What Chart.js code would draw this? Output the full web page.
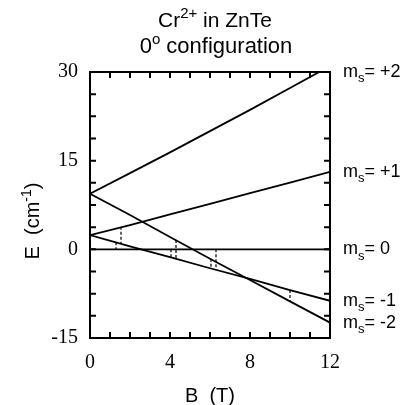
<!DOCTYPE html>
<html>
<head>
<meta charset="utf-8">
<script src="https://cdn.jsdelivr.net/npm/chart.js@4"></script>
<style>
html,body{margin:0;padding:0;background:#fff}
</style>
</head>
<body>
<canvas id="chart" width="406" height="405"></canvas>
<script>
// energy levels of Cr2+ vs field, one list per m_s
const fieldB=[0,2,4,6,8,10,12]
const levelPlus2=[9.4,12.9,16.4,20.0,23.6,27.3,31.0]
const levelPlus1=[2.4,4.1,5.9,7.7,9.5,11.3,13.1]
const levelZero=[0,0,0,0,0,0,0]
const levelMinus1=[2.4,0.5,-1.3,-3.2,-5.0,-6.9,-8.7]
const levelMinus2=[9.4,5.8,2.1,-1.6,-5.2,-8.8,-12.4]
const levelNames=["+2","+1","0","-1","-2"]

// resonance transitions (dotted): field, upper and lower energy
const transB=[1.3,1.55,4.05,4.3,6.05,6.3,10.0]
const transTop=[1.2,3.8,0,1.6,-1.6,0,-6.9]
const transBottom=[0,0.9,-1.4,-1.6,-3.2,-3.4,-8.8]

const xTicks=[0,1,2,3,4,5,6,7,8,9,10,11,12]
const xLabels=[0,4,8,12]
const yTicks=[-15,-11.25,-7.5,-3.75,0,3.75,7.5,11.25,15,18.75,22.5,26.25,30]
const yLabels=[-15,0,15,30]

const levels=[levelPlus2,levelPlus1,levelZero,levelMinus1,levelMinus2]

const SANS='"Liberation Sans", Arial, sans-serif'
const SERIF='"Liberation Serif", "Times New Roman", serif'

// draws a run of text pieces with optional super/subscripts
function richText(ctx,parts,x,y,align,size){
  let w=0
  parts.forEach(p=>{
    ctx.font=(p.sup||p.sub?Math.round(size*0.7):size)+"px "+SANS
    p.w=ctx.measureText(p.t).width
    w+=p.w
  })
  let cx=align==="center"?x-w/2:x
  parts.forEach(p=>{
    const s=p.sup||p.sub?Math.round(size*0.7):size
    ctx.font=s+"px "+SANS
    let dy=0
    if(p.sup) dy=-size*0.42
    if(p.sub) dy=size*0.3
    ctx.fillText(p.t,cx,y+dy)
    cx+=p.w
  })
}

const frame={
  id:"frame",
  afterDraw(chart){
    const {ctx,chartArea:a,scales:{x,y}}=chart
    ctx.save()
    ctx.strokeStyle="#000"
    ctx.fillStyle="#000"
    ctx.lineWidth=2
    ctx.strokeRect(a.left,a.top,a.right-a.left,a.bottom-a.top)

    // inward ticks on all four sides
    const tl=6
    ctx.beginPath()
    xTicks.forEach(v=>{
      const px=x.getPixelForValue(v)
      ctx.moveTo(px,a.bottom);ctx.lineTo(px,a.bottom-tl)
      ctx.moveTo(px,a.top);ctx.lineTo(px,a.top+tl)
    })
    yTicks.forEach(v=>{
      const py=y.getPixelForValue(v)
      ctx.moveTo(a.left,py);ctx.lineTo(a.left+tl,py)
      ctx.moveTo(a.right,py);ctx.lineTo(a.right-tl,py)
    })
    ctx.stroke()

    ctx.font="20px "+SERIF
    ctx.textBaseline="middle"
    ctx.textAlign="right"
    yLabels.forEach(v=>ctx.fillText(String(v),a.left-12,y.getPixelForValue(v)))
    ctx.textAlign="center"
    ctx.textBaseline="alphabetic"
    xLabels.forEach(v=>ctx.fillText(String(v),x.getPixelForValue(v),a.bottom+30))

    ctx.textAlign="left"
    ctx.textBaseline="alphabetic"
    richText(ctx,[{t:"Cr"},{t:"2+",sup:true},{t:" in ZnTe"}],215,27,"center",21)
    richText(ctx,[{t:"0"},{t:"o",sup:true},{t:" configuration"}],216,53,"center",22)
    richText(ctx,[{t:"B  (T)"}],210,402,"center",20)

    ctx.save()
    ctx.translate(39,221)
    ctx.rotate(-Math.PI/2)
    richText(ctx,[{t:"E  (cm"},{t:"-1",sup:true},{t:")"}],0,0,"center",20)
    ctx.restore()

    // m_s labels at the right end of each level
    levels.forEach((lv,i)=>{
      const e=Math.min(lv[lv.length-1],y.max)
      const py=y.getPixelForValue(e)
      richText(ctx,[{t:"m"},{t:"s",sub:true},{t:"= "+levelNames[i]}],343,py+5,"left",18)
    })
    ctx.restore()
  }
}

const datasets=levels.map(lv=>({
  data:lv.map((v,i)=>({x:fieldB[i],y:v})),
  borderColor:"#000",
  borderWidth:1.8,
  pointRadius:0,
  showLine:true
}))

transB.forEach((b,i)=>{
  datasets.push({
    data:[{x:b,y:transTop[i]},{x:b,y:transBottom[i]}],
    borderColor:"#000",
    borderWidth:1.2,
    borderDash:[3,2],
    pointRadius:0,
    showLine:true
  })
})

new Chart(document.getElementById("chart"),{
  type:"scatter",
  data:{datasets},
  options:{
    responsive:false,
    animation:false,
    devicePixelRatio:1,
    layout:{padding:{left:90,right:76,top:72,bottom:67}},
    scales:{
      x:{type:"linear",display:false,min:0,max:12},
      y:{type:"linear",display:false,min:-15,max:30}
    },
    plugins:{
      legend:{display:false},
      tooltip:{enabled:false}
    }
  },
  plugins:[frame]
})
</script>
</body>
</html>
